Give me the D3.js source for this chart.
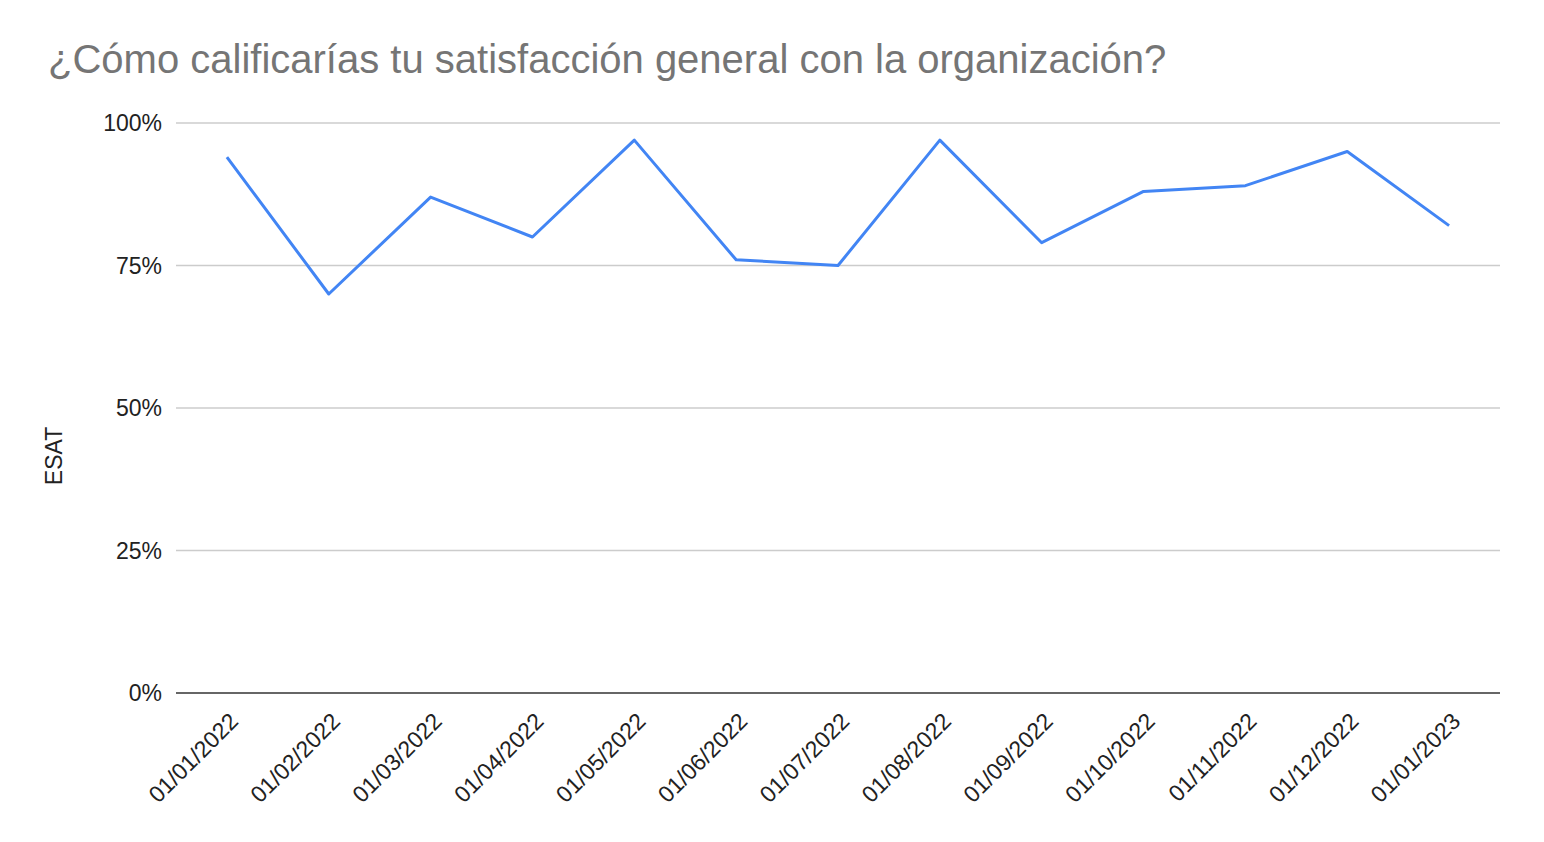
<!DOCTYPE html>
<html>
<head>
<meta charset="utf-8">
<script src="https://cdn.jsdelivr.net/npm/d3@7"></script>
<style>
  body { margin: 0; background: #fff; }
  text { font-family: "Liberation Sans", Arial, sans-serif; }
</style>
</head>
<body>
<div id="chart"></div>
<script>
// data
const dates = ["01/01/2022", "01/02/2022", "01/03/2022", "01/04/2022", "01/05/2022", "01/06/2022",
  "01/07/2022", "01/08/2022", "01/09/2022", "01/10/2022", "01/11/2022", "01/12/2022", "01/01/2023"];
const esat = [94, 70, 87, 80, 97, 76, 75, 97, 79, 88, 89, 95, 82];
const yTicks = [0, 25, 50, 75, 100];

const width = 1544, height = 842;
const margin = {top: 123, right: 44, bottom: 149, left: 176};

const svg = d3.select('#chart')
  .append('svg')
  .attr('width', width)
  .attr('height', height);

// title
svg.append('text')
  .attr('x', 48)
  .attr('y', 73)
  .attr('fill', '#757575')
  .style('font-size', '40px')
  .text('¿Cómo calificarías tu satisfacción general con la organización?');

const x = d3.scalePoint()
  .domain(dates)
  .range([margin.left, width - margin.right])
  .padding(0.5);

const y = d3.scaleLinear()
  .domain([0, 100])
  .range([height - margin.bottom, margin.top]);

// gridlines
svg.append('g')
  .selectAll('line')
  .data(yTicks.filter(d => d > 0))
  .enter()
  .append('line')
  .attr('x1', margin.left)
  .attr('x2', width - margin.right)
  .attr('y1', d => y(d))
  .attr('y2', d => y(d))
  .attr('stroke', '#cccccc')
  .attr('stroke-width', 1.5);

// y labels
svg.append('g')
  .selectAll('text')
  .data(yTicks)
  .enter()
  .append('text')
  .attr('x', margin.left - 14)
  .attr('y', d => y(d))
  .attr('dy', '0.35em')
  .attr('text-anchor', 'end')
  .attr('fill', '#222')
  .style('font-size', '23px')
  .text(d => d + '%');

// baseline
svg.append('line')
  .attr('x1', margin.left)
  .attr('x2', width - margin.right)
  .attr('y1', y(0))
  .attr('y2', y(0))
  .attr('stroke', '#333')
  .attr('stroke-width', 1.5);

// x labels
svg.append('g')
  .selectAll('text')
  .data(dates)
  .enter()
  .append('text')
  .attr('transform', d => `translate(${x(d) + 7}, ${y(0) + 24}) rotate(-45)`)
  .attr('text-anchor', 'end')
  .attr('dy', '0.35em')
  .attr('fill', '#222')
  .style('font-size', '23px')
  .text(d => d);

// y axis title (centred on the whole chart height, like the original)
svg.append('text')
  .attr('transform', `translate(62, ${(y(0) + y(100)) / 2 + 48}) rotate(-90)`)
  .attr('text-anchor', 'middle')
  .attr('fill', '#222')
  .style('font-size', '23px')
  .text('ESAT');

// line
const line = d3.line()
  .x((d, i) => x(dates[i]))
  .y(d => y(d));

svg.append('path')
  .datum(esat)
  .attr('d', line)
  .attr('fill', 'none')
  .attr('stroke', '#4285f4')
  .attr('stroke-width', 3)
  .attr('stroke-linejoin', 'round');
</script>
</body>
</html>
